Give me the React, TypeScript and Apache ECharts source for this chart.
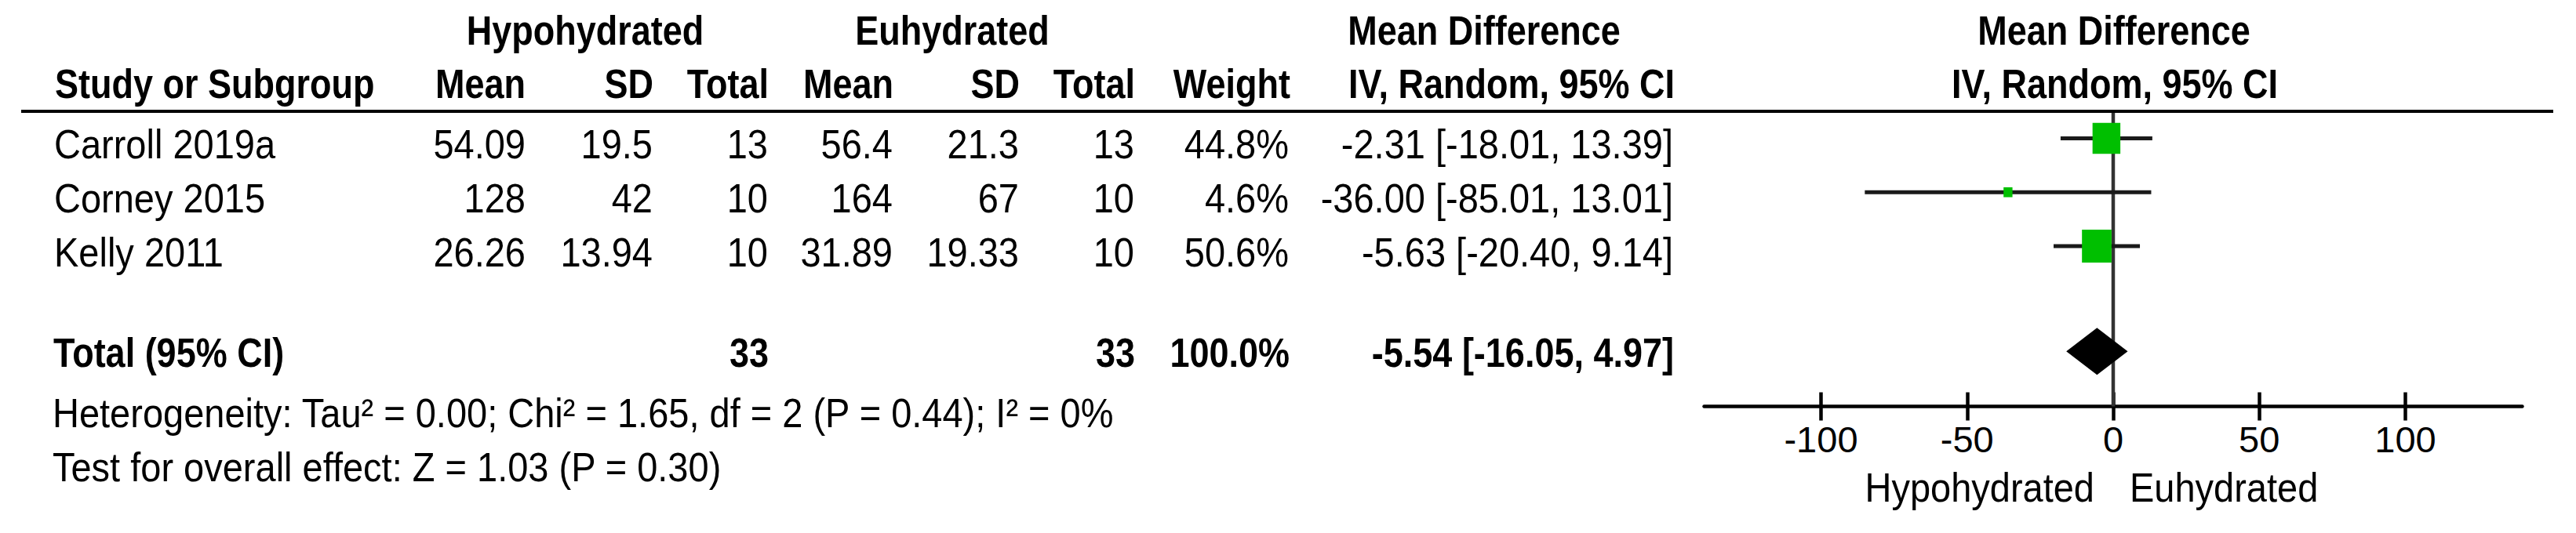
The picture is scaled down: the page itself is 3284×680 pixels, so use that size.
import React, { useEffect, useRef } from "react";
import * as echarts from "echarts";

// ---------- data ----------
const studies = ["Carroll 2019a", "Corney 2015", "Kelly 2011"];
const hypoMean = [54.09, 128, 26.26];
const hypoSD = [19.5, 42, 13.94];
const hypoTotal = [13, 10, 10];
const euMean = [56.4, 164, 31.89];
const euSD = [21.3, 67, 19.33];
const euTotal = [13, 10, 10];
const weights = [44.8, 4.6, 50.6];
const meanDiff = [-2.31, -36.0, -5.63];
const ciLower = [-18.01, -85.01, -20.4];
const ciUpper = [13.39, 13.01, 9.14];

const totalHypo = 33;
const totalEu = 33;
const totalWeight = 100.0;
const pooledMD = -5.54;
const pooledLower = -16.05;
const pooledUpper = 4.97;

const axisTicks = [-100, -50, 0, 50, 100];
const heterogeneityText =
  "Heterogeneity: Tau\u00B2 = 0.00; Chi\u00B2 = 1.65, df = 2 (P = 0.44); I\u00B2 = 0%";
const overallText = "Test for overall effect: Z = 1.03 (P = 0.30)";
const favoursLeft = "Hypohydrated";
const favoursRight = "Euhydrated";

// ---------- layout ----------
const W = 3284;
const H = 680;
const GRID_TOP = 142;
const AXIS_Y = 518.5;
const PLOT_LEFT = 2172.5;
const PLOT_RIGHT = 3215.5;
const X_MIN = -140;
const X_MAX = 140;
const Y_MAX = 5.47;
const studyRows = [0.5, 1.5, 2.5];
const totalRow = 4.45;

const FONT = "'Liberation Sans', Arial, Helvetica, sans-serif";
const REG = 47;
const BOLD = 45;

const yPx = (r: number) => GRID_TOP + (r * (AXIS_Y - GRID_TOP)) / Y_MAX;

function txt(
  text: string,
  x: number,
  y: number,
  align: "left" | "right" | "center",
  bold = false
) {
  return {
    type: "text",
    x,
    y,
    scaleY: bold ? 1.15 : 1.1,
    silent: true,
    style: {
      text,
      fill: "#000",
      fontSize: bold ? BOLD : REG,
      fontWeight: bold ? "bold" : "normal",
      fontFamily: FONT,
      align,
      verticalAlign: "middle",
    },
  };
}

const fmtCI = (m: number, l: number, u: number) =>
  `${m.toFixed(2)} [${l.toFixed(2)}, ${u.toFixed(2)}]`;

export default function App() {
  const ref = useRef<HTMLDivElement>(null);

  useEffect(() => {
    document.body.style.margin = "0";
    if (!ref.current) return;
    const chart = echarts.init(ref.current, undefined, { renderer: "svg" });

    const head1 = 39;
    const head2 = 107;
    const cols = {
      hMean: 670,
      hSD: 832,
      hTot: 979,
      eMean: 1138,
      eSD: 1299,
      eTot: 1446,
      weight: 1643,
      ci: 2133,
    };

    const graphics: any[] = [
      txt("Hypohydrated", 746, head1, "center", true),
      txt("Euhydrated", 1214, head1, "center", true),
      txt("Mean Difference", 1892, head1, "center", true),
      txt("Mean Difference", 2695, head1, "center", true),
      txt("Study or Subgroup", 70, head2, "left", true),
      txt("Mean", cols.hMean, head2, "right", true),
      txt("SD", cols.hSD + 1, head2, "right", true),
      txt("Total", cols.hTot + 1, head2, "right", true),
      txt("Mean", cols.eMean + 1, head2, "right", true),
      txt("SD", cols.eSD + 1, head2, "right", true),
      txt("Total", cols.eTot + 1, head2, "right", true),
      txt("Weight", cols.weight + 2, head2, "right", true),
      txt("IV, Random, 95% CI", cols.ci + 2, head2, "right", true),
      txt("IV, Random, 95% CI", 2696, head2, "center", true),
      {
        type: "line",
        silent: true,
        z: 10,
        shape: { x1: 27, y1: GRID_TOP, x2: 3255, y2: GRID_TOP },
        style: { stroke: "#000", lineWidth: 4 },
      },
    ];

    studies.forEach((s, i) => {
      const y = yPx(studyRows[i]) + 7.5;
      graphics.push(
        txt(s, 69, y, "left"),
        txt(String(hypoMean[i]), cols.hMean, y, "right"),
        txt(String(hypoSD[i]), cols.hSD, y, "right"),
        txt(String(hypoTotal[i]), cols.hTot, y, "right"),
        txt(String(euMean[i]), cols.eMean, y, "right"),
        txt(String(euSD[i]), cols.eSD, y, "right"),
        txt(String(euTotal[i]), cols.eTot, y, "right"),
        txt(`${weights[i].toFixed(1)}%`, cols.weight, y, "right"),
        txt(fmtCI(meanDiff[i], ciLower[i], ciUpper[i]), cols.ci, y, "right")
      );
    });

    const ty = yPx(totalRow) + 2;
    graphics.push(
      txt("Total (95% CI)", 68, ty, "left", true),
      txt(String(totalHypo), cols.hTot + 1, ty, "right", true),
      txt(String(totalEu), cols.eTot + 1, ty, "right", true),
      txt(`${totalWeight.toFixed(1)}%`, cols.weight + 1, ty, "right", true),
      txt(fmtCI(pooledMD, pooledLower, pooledUpper), cols.ci + 1, ty, "right", true),
      txt(heterogeneityText, 67, 527, "left"),
      txt(overallText, 67, 596, "left"),
      txt(favoursLeft, 2670, 622, "right"),
      txt(favoursRight, 2715, 622, "left")
    );

    const studyData = studies.map((_, i) => [
      meanDiff[i],
      ciLower[i],
      ciUpper[i],
      studyRows[i],
      weights[i],
    ]);

    const option: any = {
      animation: false,
      backgroundColor: "#fff",
      grid: {
        left: PLOT_LEFT,
        right: W - PLOT_RIGHT,
        top: GRID_TOP,
        bottom: H - AXIS_Y,
      },
      xAxis: [
        {
          type: "value",
          min: X_MIN,
          max: X_MAX,
          position: "bottom",
          axisLine: { show: true, onZero: false, lineStyle: { color: "#000", width: 4.5 } },
          axisTick: {
            show: true,
            inside: false,
            length: 18,
            customValues: axisTicks,
            lineStyle: { color: "#000", width: 4.5 },
          },
          axisLabel: {
            show: true,
            customValues: axisTicks,
            fontSize: REG,
            fontFamily: FONT,
            color: "#000",
            margin: 42,
            verticalAlign: "middle",
          },
          splitLine: { show: false },
        },
        {
          type: "value",
          min: X_MIN,
          max: X_MAX,
          position: "bottom",
          offset: 0,
          axisLine: { show: false, onZero: false },
          axisTick: {
            show: true,
            inside: true,
            length: 18,
            customValues: axisTicks,
            lineStyle: { color: "#000", width: 4.5 },
          },
          axisLabel: { show: false },
          splitLine: { show: false },
        },
      ],
      yAxis: {
        type: "value",
        min: 0,
        max: Y_MAX,
        inverse: true,
        show: false,
        splitLine: { show: false },
      },
      graphic: graphics,
      series: [
        {
          type: "custom",
          name: "zero",
          z: 1,
          silent: true,
          clip: false,
          data: [[0]],
          encode: { x: 0 },
          renderItem: (params: any, api: any) => {
            const cs = params.coordSys;
            const x = api.coord([api.value(0), 0])[0];
            return {
              type: "line",
              shape: { x1: x, y1: cs.y, x2: x, y2: cs.y + cs.height },
              style: { stroke: "#333", lineWidth: 4.5 },
            };
          },
        },
        {
          type: "custom",
          name: "studies",
          z: 5,
          silent: true,
          clip: false,
          data: studyData,
          encode: { x: [0, 1, 2], y: 3 },
          renderItem: (params: any, api: any) => {
            const md = api.value(0);
            const lo = api.value(1);
            const hi = api.value(2);
            const r = api.value(3);
            const w = api.value(4);
            const p = api.coord([md, r]);
            const pl = api.coord([lo, r]);
            const ph = api.coord([hi, r]);
            const s = Math.sqrt(w);
            const bw = 5.3 * s;
            const bh = 5.9 * s;
            return {
              type: "group",
              children: [
                {
                  type: "line",
                  shape: { x1: pl[0], y1: p[1], x2: ph[0], y2: p[1] },
                  style: { stroke: "#1a1a1a", lineWidth: 5 },
                },
                {
                  type: "rect",
                  shape: { x: p[0] - bw / 2, y: p[1] - bh / 2, width: bw, height: bh },
                  style: { fill: "#00BF00" },
                },
              ],
            };
          },
        },
        {
          type: "custom",
          name: "pooled",
          z: 6,
          silent: true,
          clip: false,
          data: [[pooledMD, pooledLower, pooledUpper, totalRow]],
          encode: { x: [0, 1, 2], y: 3 },
          renderItem: (params: any, api: any) => {
            const r = api.value(3);
            const c = api.coord([api.value(0), r]);
            const l = api.coord([api.value(1), r]);
            const h = api.coord([api.value(2), r]);
            const half = 30;
            return {
              type: "polygon",
              shape: {
                points: [
                  [l[0], c[1]],
                  [c[0], c[1] - half],
                  [h[0], c[1]],
                  [c[0], c[1] + half],
                ],
              },
              style: { fill: "#000" },
            };
          },
        },
      ],
    };

    chart.setOption(option);
    return () => chart.dispose();
  }, []);

  return (
    <div
      ref={ref}
      style={{ width: W + "px", height: H + "px", overflow: "hidden", background: "#fff" }}
    />
  );
}
